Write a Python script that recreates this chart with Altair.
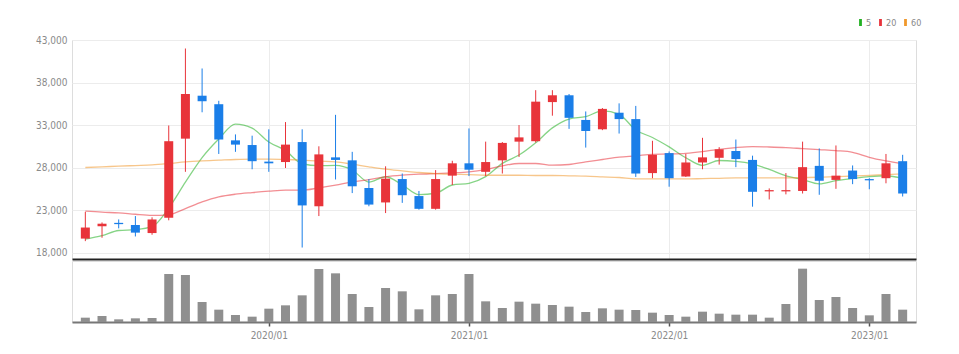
import altair as alt
import pandas as pd
import numpy as np

months = ["2019/02", "2019/03", "2019/04", "2019/05", "2019/06", "2019/07", "2019/08", "2019/09",
          "2019/10", "2019/11", "2019/12", "2020/01", "2020/02", "2020/03", "2020/04", "2020/05",
          "2020/06", "2020/07", "2020/08", "2020/09", "2020/10", "2020/11", "2020/12", "2021/01",
          "2021/02", "2021/03", "2021/04", "2021/05", "2021/06", "2021/07", "2021/08", "2021/09",
          "2021/10", "2021/11", "2021/12", "2022/01", "2022/02", "2022/03", "2022/04", "2022/05",
          "2022/06", "2022/07", "2022/08", "2022/09", "2022/10", "2022/11", "2022/12", "2023/01",
          "2023/02", "2023/03"]

opens = [19650, 21100, 21500, 21250, 20300, 22100, 31400, 36450, 35450, 31200,
         30650, 28700, 28650, 31000, 23450, 29200, 28850, 25600, 23900, 26650,
         24650, 23150, 27050, 28500, 27500, 28850, 31050, 31100, 35700, 36500,
         33600, 32500, 34450, 33700, 27350, 29700, 26950, 28600, 29150, 29950,
         28900, 25200, 25200, 25250, 28200, 26550, 27650, 26650, 26750, 28750]
highs = [22800, 21550, 21900, 22300, 22150, 32950, 42000, 39650, 35850, 31900,
         31750, 32500, 33350, 32500, 30500, 34200, 29850, 26650, 28150, 27300,
         25250, 27700, 28800, 32600, 31050, 31000, 33000, 37100, 37100, 36650,
         34600, 35000, 35550, 35250, 31150, 29900, 29600, 31500, 30400, 31300,
         29400, 25550, 27350, 31050, 30250, 30600, 28250, 26750, 29600, 29500]
lows = [19350, 19750, 20850, 19900, 20100, 21800, 27500, 34500, 29600, 29850,
        27800, 27500, 27950, 18600, 22300, 26600, 25000, 23450, 22650, 23850,
        23050, 23050, 25950, 27000, 27000, 27300, 29250, 30950, 34100, 32550,
        30350, 32400, 32000, 26900, 26750, 25750, 26900, 27800, 28350, 28050,
        23400, 24250, 24850, 24950, 24800, 25500, 26050, 25450, 26150, 24600]
closes = [20950, 21400, 21350, 20350, 21900, 31100, 36650, 35800, 31300, 30700,
          28750, 28500, 30700, 23550, 29550, 28900, 25800, 23650, 26700, 24750,
          23150, 26650, 28500, 27750, 28650, 30900, 31550, 35750, 36500, 33850,
          32300, 34900, 33700, 27300, 29500, 26750, 28600, 29200, 30150, 29000,
          25150, 25350, 25350, 28050, 26450, 27050, 26650, 26500, 28500, 24950]
volumes = [13, 18, 8, 11, 12, 144, 141, 60, 37, 21,
           16, 40, 50, 80, 159, 146, 84, 45, 102, 92,
           38, 80, 84, 144, 62, 42, 61, 55, 51, 46,
           30, 41, 37, 36, 28, 21, 16, 31, 25, 22,
           22, 13, 54, 160, 66, 75, 42, 20, 84, 37]

ma5 = [19600, 20000, 20600, 20700, 21050, 23230, 26280, 29170, 31360, 33110,
       32640, 31010, 29990, 28450, 28220, 28250, 27710, 26300, 26920, 25970,
       24810, 24980, 25950, 26150, 26940, 28490, 29470, 30920, 32670, 33710,
       33990, 34660, 34260, 32420, 31540, 30430, 29160, 28260, 28830, 28740,
       28430, 27780, 27020, 26590, 26080, 26460, 26720, 26940, 27040, 26740]
ma20 = [22870, 22750, 22670, 22510, 22390, 22450, 23180, 23960, 24550, 24870,
        25060, 25220, 25340, 25340, 25610, 25930, 26320, 26590, 26910, 27100,
        27220, 27300, 27380, 27500, 27770, 28200, 28480, 28480, 28280, 28360,
        28670, 28950, 29230, 29380, 29560, 29600, 29680, 29880, 30150, 30350,
        30460, 30420, 30350, 30230, 30110, 29990, 29800, 29210, 28780, 28430]
ma60 = [28010, 28090, 28160, 28240, 28320, 28480, 28670, 28790, 28870, 28950,
        28990, 28990, 28950, 28870, 28750, 28670, 28400, 28090, 27810, 27610,
        27420, 27300, 27220, 27180, 27100, 27100, 27100, 27070, 27070, 27030,
        26990, 26910, 26830, 26670, 26660, 26660, 26660, 26700, 26740, 26780,
        26780, 26780, 26780, 26820, 26860, 26940, 27010, 27090, 27170, 27250]

ma_names = ["5", "20", "60"]
ma_colors = ["#22b022", "#e8323a", "#f0982c"]
y_ticks = [18000, 23000, 28000, 33000, 38000, 43000]

RED = "#e8343a"
BLUE = "#1a7ee8"
FONT = "Liberation Sans Narrow, DejaVu Sans Condensed, Liberation Sans, sans-serif"

n = len(months)
idx = list(range(n))
df = pd.DataFrame({"i": idx, "month": months, "open": opens, "high": highs,
                   "low": lows, "close": closes, "volume": volumes})
df["col"] = np.where(df["close"] >= df["open"], RED, BLUE)

ma = pd.DataFrame({
    "i": idx * 3,
    "series": [ma_names[0]] * n + [ma_names[1]] * n + [ma_names[2]] * n,
    "value": ma5 + ma20 + ma60,
})

jan_idx = [i for i, m in enumerate(months) if m.endswith("/01")]
label_js = "[" + ",".join("'" + m + "'" for m in months) + "]"

xscale = alt.Scale(domain=[-0.5, n - 0.5], nice=False, zero=False)
yscale = alt.Scale(domain=[17250, 43000], nice=False, zero=False)
ma_scale = alt.Scale(domain=ma_names, range=ma_colors)

x_price = alt.X("i:Q", scale=xscale, title=None,
                axis=alt.Axis(values=jan_idx, labels=False, ticks=False, grid=True,
                              gridColor="#ececec", domain=True, domainColor="#222222",
                              domainWidth=2))
y_axis = alt.Axis(values=y_ticks, format=",.0f", labelColor="#8a8a8a", labelFontSize=10,
                  labelFont=FONT, ticks=False, domain=False, gridColor="#ececec",
                  labelPadding=5, minExtent=30, maxExtent=30)

wicks = alt.Chart(df).mark_rule(strokeWidth=1).encode(
    x=x_price,
    y=alt.Y("low:Q", scale=yscale, axis=y_axis, title=None),
    y2="high:Q",
    color=alt.Color("col:N", scale=None),
)
bodies = alt.Chart(df).mark_bar(size=9).encode(
    x=x_price,
    y=alt.Y("open:Q", scale=yscale, axis=y_axis, title=None),
    y2="close:Q",
    color=alt.Color("col:N", scale=None),
)
lines = alt.Chart(ma).mark_line(strokeWidth=1.3, opacity=0.55, interpolate="monotone").encode(
    x=x_price,
    y=alt.Y("value:Q", scale=yscale, axis=y_axis, title=None),
    color=alt.Color("series:N", sort=ma_names, scale=ma_scale, legend=None),
)
legend_marks = alt.Chart(ma).mark_point(filled=True, opacity=0, size=0).encode(
    x=x_price,
    y=alt.Y("value:Q", scale=yscale, axis=y_axis, title=None),
    color=alt.Color("series:N", sort=ma_names, scale=ma_scale,
                    legend=alt.Legend(orient="none", direction="horizontal", legendX=784,
                                      legendY=-22, title=None, gridAlign="none",
                                      symbolType="M-0.7,-1.75H0.7V1.75H-0.7Z",
                                      symbolSize=16, symbolOpacity=1, symbolStrokeWidth=0,
                                      labelFontSize=9, labelColor="#888888",
                                      labelFont=FONT, labelOffset=1, columnPadding=4)),
)

price = alt.layer(lines, legend_marks, wicks, bodies).resolve_scale(
    color="independent").properties(width=844, height=219)

volume = alt.Chart(df).mark_bar(size=9, color="#8f8f8f").encode(
    x=alt.X("i:Q", scale=xscale, title=None,
            axis=alt.Axis(values=jan_idx, labelExpr=label_js + "[datum.value]",
                          labelColor="#8a8a8a", labelFontSize=10, labelFont=FONT,
                          ticks=True, tickColor="#555555", tickSize=4, tickWidth=1.5,
                          domain=True, domainColor="#777777", domainWidth=2,
                          grid=False, labelPadding=4)),
    y=alt.Y("volume:Q", scale=alt.Scale(domain=[0, 183], nice=False), title=None,
            axis=alt.Axis(labels=False, ticks=False, domain=False, grid=False,
                          minExtent=30, maxExtent=30)),
).properties(width=844, height=61)

chart = alt.vconcat(price, volume, spacing=0).properties(
    padding={"left": 35, "top": 17, "right": 5, "bottom": 5}
).configure_view(stroke="transparent", strokeWidth=0).configure(background="white")

chart.save("out.html", embed_options={"renderer": "svg", "actions": False})
